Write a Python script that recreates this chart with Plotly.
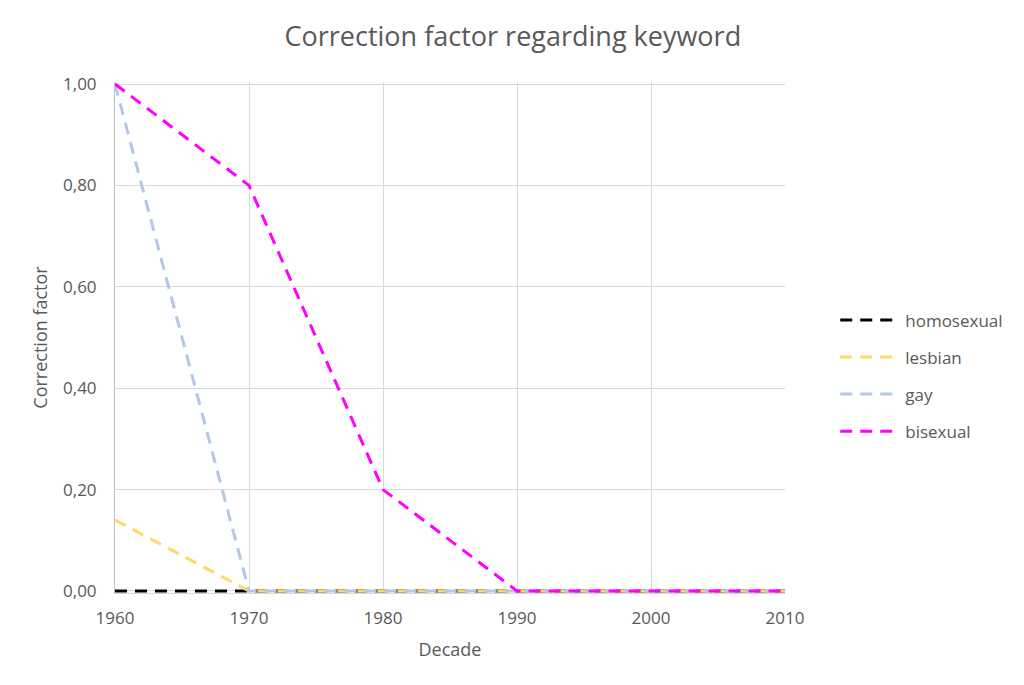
import plotly.graph_objects as go

decades = [1960, 1970, 1980, 1990, 2000, 2010]
homosexual = [0, 0, 0, 0, 0, 0]
lesbian = [0.14, 0, 0, 0, 0, 0]
gay = [1.0, 0, 0, 0, 0, 0]
bisexual = [1.0, 0.8, 0.2, 0, 0, 0]

series = [
    ("homosexual", homosexual, "#000000"),
    ("lesbian", lesbian, "#FFD966"),
    ("gay", gay, "#B4C7E7"),
    ("bisexual", bisexual, "#FF00FF"),
]

fig = go.Figure()
for name, vals, color in series:
    fig.add_trace(go.Scatter(
        x=decades, y=vals, name=name, mode="lines", legendgroup=name,
        line=dict(color=color, width=3, dash="12px,8px"),
    ))

font_fam = "Open Sans, Liberation Sans, sans-serif"
fig.update_layout(
    width=1024, height=685,
    paper_bgcolor="white", plot_bgcolor="white",
    margin=dict(l=107, r=247, t=74, b=100),
    title=dict(text="Correction factor regarding keyword", x=0.493, xanchor="center",
               y=0.959, yanchor="middle",
               font=dict(family=font_fam, size=27, color="#595959")),
    font=dict(family=font_fam, size=16, color="#595959"),
    xaxis=dict(
        title=dict(text="Decade", font=dict(size=18, color="#595959"), standoff=14),
        range=[1960, 2010], tickvals=decades, ticktext=[str(d) for d in decades],
        showgrid=True, gridcolor="#D9D9D9", gridwidth=1,
        showline=True, linecolor="#D9D9D9", linewidth=1,
        zeroline=False, ticks="", ticklabelstandoff=10,
        tickfont=dict(size=17, color="#595959"),
    ),
    yaxis=dict(
        title=dict(text="Correction factor", font=dict(size=18, color="#595959"), standoff=10),
        range=[-0.004, 1.004], tickvals=[0, 0.2, 0.4, 0.6, 0.8, 1.0],
        ticktext=["0,00", "0,20", "0,40", "0,60", "0,80", "1,00"],
        showgrid=True, gridcolor="#D9D9D9", gridwidth=1,
        showline=True, linecolor="#BFBFBF", linewidth=1,
        zeroline=False, ticks="", ticklabelstandoff=14,
        tickfont=dict(size=17, color="#595959"),
    ),
    legend=dict(x=1.075, y=0.425, xanchor="left", yanchor="middle",
                font=dict(size=17, color="#595959"), tracegroupgap=12,
                itemwidth=60, bgcolor="rgba(0,0,0,0)"),
    showlegend=True,
)
fig.write_html("out.html")
